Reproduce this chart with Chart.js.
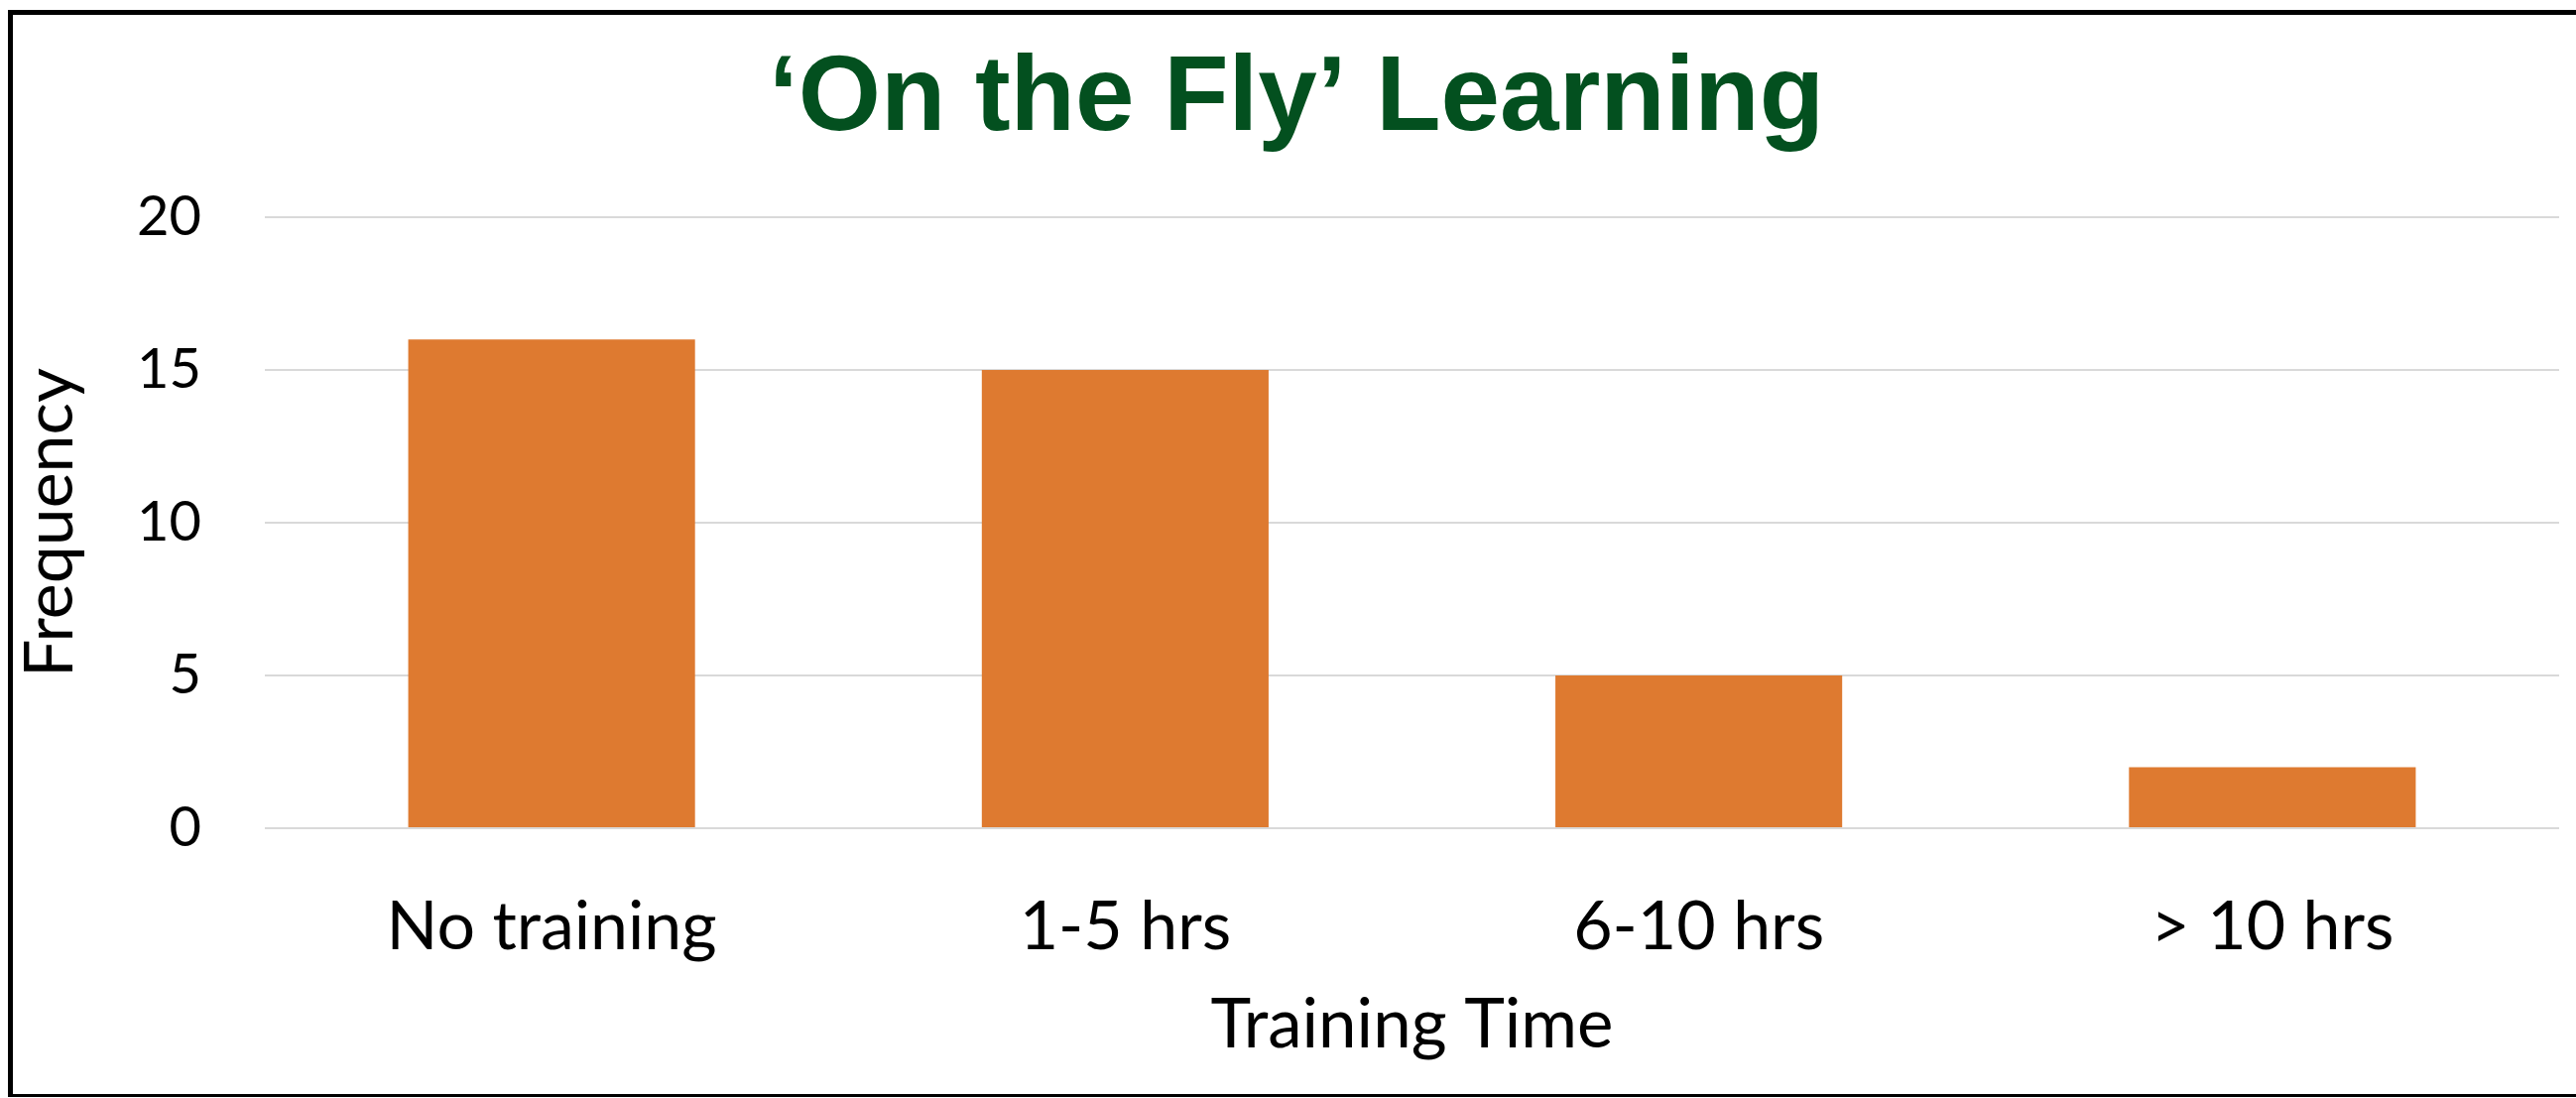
<!DOCTYPE html>
<html>
<head>
<meta charset="utf-8">
<title>'On the Fly' Learning</title>
<script src="https://cdn.jsdelivr.net/npm/chart.js@4.4.1/dist/chart.umd.min.js"></script>
<style>
  html, body { margin: 0; padding: 0; background: #fff; overflow: hidden; }
  #wrap { position: relative; width: 2597px; height: 1107px; }
  #frame {
    position: absolute; left: 8px; top: 10px; width: 2600px; height: 1096px;
    box-sizing: border-box; pointer-events: none;
    border-left: 5px solid #000; border-top: 5px solid #000; border-bottom: 3px solid #000;
  }
</style>
</head>
<body>
<div id="wrap">
  <canvas id="trainingChart" width="2597" height="1107"></canvas>
  <div id="frame"></div>
</div>
<script>
// Chart data
const categories = ['No training', '1-5 hrs', '6-10 hrs', '> 10 hrs'];
const frequency = [16, 15, 5, 2];
const yTicks = [0, 5, 10, 15, 20];

const chartTitle = '\u2018On the Fly\u2019 Learning';
const xTitle = 'Training Time';
const yTitle = 'Frequency';

const labelFont = 'Lato, "Open Sans", sans-serif';

// Build the bar chart
const ctx = document.getElementById('trainingChart').getContext('2d');
const trainingChart = new Chart(ctx, {
  type: 'bar',
  data: {
    labels: categories,
    datasets: [{
      label: yTitle,
      data: frequency,
      backgroundColor: '#DE7A30',
      borderWidth: 0,
      categoryPercentage: 1,
      barPercentage: 0.5
    }]
  },
  options: {
    responsive: false,
    animation: false,
    // left padding nudges the centred title a bit to the right, like the original
    layout: { padding: { left: 34, right: 17, top: 0, bottom: 0 } },
    plugins: {
      legend: { display: false },
      tooltip: { enabled: false },
      title: {
        display: true,
        text: chartTitle,
        color: '#03501F',
        font: { family: '"Liberation Sans", Arial, sans-serif', size: 107, weight: 'bold', lineHeight: 1 },
        padding: { top: 48, bottom: 64 }
      }
    },
    scales: {
      x: {
        grid: { display: false, drawTicks: false },
        border: { display: false },
        ticks: {
          color: '#000',
          padding: 66,
          font: { family: labelFont, size: 68, lineHeight: 1 }
        },
        title: {
          display: true,
          text: xTitle,
          color: '#000',
          font: { family: labelFont, size: 69, lineHeight: 1 },
          padding: { top: 0, bottom: 39 }
        },
        afterFit: (scale) => { scale.height = 272; }
      },
      y: {
        min: 0,
        max: 20,
        grid: { color: '#D9D9D9', lineWidth: 2, drawTicks: false },
        border: { display: false },
        afterBuildTicks: (scale) => { scale.ticks = yTicks.map(v => ({ value: v })); },
        ticks: {
          color: '#000',
          padding: 64,
          font: { family: labelFont, size: 56, lineHeight: 1 }
        },
        title: {
          display: true,
          text: yTitle,
          color: '#000',
          font: { family: labelFont, size: 68, lineHeight: 1 },
          padding: { top: -17, bottom: 0 }
        },
        afterFit: (scale) => { scale.width = 233; }
      }
    }
  }
});
</script>
</body>
</html>
